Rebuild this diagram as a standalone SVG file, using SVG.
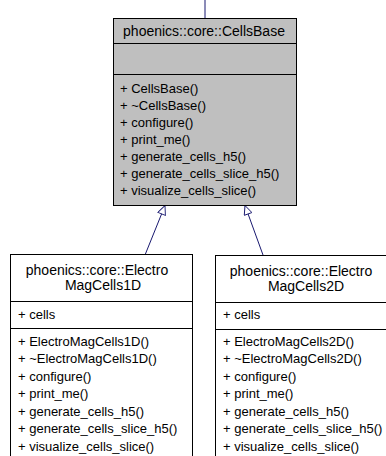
<svg xmlns="http://www.w3.org/2000/svg" width="386" height="456" viewBox="0 0 386 456">
  <style>
    .box { fill: #ffffff; stroke: #000000; stroke-width: 1; }
    .cur { fill: #bfbfbf; stroke: #000000; stroke-width: 1; }
    .sep { stroke: #000000; stroke-width: 1; }
    .t { font-family: "Liberation Sans", Arial, sans-serif; font-size: 13px; fill: #000000; }
    .h { font-size: 14px; }
    .c { text-anchor: middle; }
    .edge { fill: none; stroke: #191970; stroke-width: 1; }
  </style>
  <defs>
    <marker id="inh" viewBox="0 0 10 10" refX="10" refY="5" markerWidth="11" markerHeight="9" markerUnits="userSpaceOnUse" orient="auto">
      <path d="M0,0.5 L10,5 L0,9.5 Z" fill="#ffffff" stroke="#191970" stroke-width="1"/>
    </marker>
  </defs>
  <rect width="386" height="456" fill="#ffffff"/>

  <g id="connectors">
    <path class="edge" d="M205,0 L205,18"/>
    <path class="edge" d="M145,255 L165,205.5" marker-end="url(#inh)"/>
    <path class="edge" d="M263,255 L245,205.5" marker-end="url(#inh)"/>
  </g>

  <g id="node-CellsBase">
    <rect class="cur" x="113.5" y="18.5" width="183" height="187"/>
    <line class="sep" x1="113.5" y1="43.5" x2="296.5" y2="43.5"/>
    <line class="sep" x1="113.5" y1="74.5" x2="296.5" y2="74.5"/>
    <text class="t h c" x="204" y="36">phoenics::core::CellsBase</text>
    <text class="t" x="120" y="92.5">+ CellsBase()</text>
    <text class="t" x="120" y="109.5">+ ~CellsBase()</text>
    <text class="t" x="120" y="126.5">+ configure()</text>
    <text class="t" x="120" y="143.5">+ print_me()</text>
    <text class="t" x="120" y="160.5">+ generate_cells_h5()</text>
    <text class="t" x="120" y="177.5">+ generate_cells_slice_h5()</text>
    <text class="t" x="120" y="194.5">+ visualize_cells_slice()</text>
  </g>

  <g id="node-ElectroMagCells1D">
    <rect class="box" x="10.5" y="254.5" width="182" height="220"/>
    <line class="sep" x1="10.5" y1="301.5" x2="192.5" y2="301.5"/>
    <line class="sep" x1="10.5" y1="328.5" x2="192.5" y2="328.5"/>
    <text class="t h c" x="97" y="275">phoenics::core::Electro</text>
    <text class="t h c" x="103" y="290">MagCells1D</text>
    <text class="t" x="18" y="318.5">+ cells</text>
    <text class="t" x="18" y="345.5">+ ElectroMagCells1D()</text>
    <text class="t" x="18" y="363">+ ~ElectroMagCells1D()</text>
    <text class="t" x="18" y="380.5">+ configure()</text>
    <text class="t" x="18" y="398">+ print_me()</text>
    <text class="t" x="18" y="415.5">+ generate_cells_h5()</text>
    <text class="t" x="18" y="433">+ generate_cells_slice_h5()</text>
    <text class="t" x="18" y="450.5">+ visualize_cells_slice()</text>
  </g>

  <g id="node-ElectroMagCells2D">
    <rect class="box" x="215.5" y="255.5" width="182" height="220"/>
    <line class="sep" x1="215.5" y1="302.5" x2="397.5" y2="302.5"/>
    <line class="sep" x1="215.5" y1="329.5" x2="397.5" y2="329.5"/>
    <text class="t h c" x="301" y="275.5">phoenics::core::Electro</text>
    <text class="t h c" x="306" y="290.5">MagCells2D</text>
    <text class="t" x="223" y="318.5">+ cells</text>
    <text class="t" x="223" y="345.5">+ ElectroMagCells2D()</text>
    <text class="t" x="223" y="363">+ ~ElectroMagCells2D()</text>
    <text class="t" x="223" y="380.5">+ configure()</text>
    <text class="t" x="223" y="398">+ print_me()</text>
    <text class="t" x="223" y="415.5">+ generate_cells_h5()</text>
    <text class="t" x="223" y="433">+ generate_cells_slice_h5()</text>
    <text class="t" x="223" y="450.5">+ visualize_cells_slice()</text>
  </g>
</svg>
